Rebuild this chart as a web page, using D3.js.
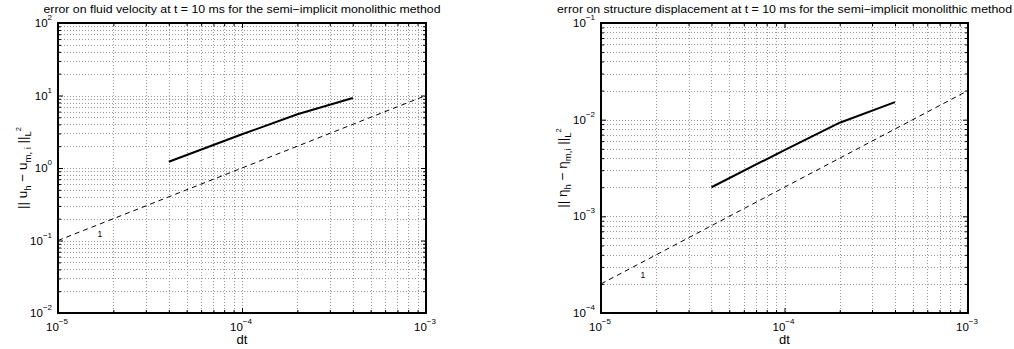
<!DOCTYPE html>
<html><head><meta charset="utf-8">
<script src="https://cdn.jsdelivr.net/npm/d3@7"></script>
<style>body{margin:0;background:#fff}svg{display:block;font-family:"Liberation Sans",Arial,Helvetica,sans-serif}</style>
</head><body><svg id="c" width="1014" height="349"></svg>
<script>
// ---- data ----
const dt = [4e-5, 1e-4, 2e-4, 4e-4];
const errVelocity = [1.22, 2.92, 5.5, 9.25];
const errDisplacement = [0.0020, 0.00485, 0.0093, 0.0152];
const refDt = [1e-5, 1e-3];
const refVelocity = [0.1, 10];
const refDisplacement = [2e-4, 2e-2];
const slopeLabelDt = 1.69e-5;
const slopeLabelVelocity = 0.123;
const slopeLabelDisplacement = 2.47e-4;
const xTickExp = [-5, -4, -3];
const yTickExpVelocity = [-2, -1, 0, 1, 2];
const yTickExpDisplacement = [-4, -3, -2, -1];
const titles = ["error on fluid velocity at t = 10 ms for the semi\u2212implicit monolithic method",
                "error on structure displacement at t = 10 ms for the semi\u2212implicit monolithic method"];
const xLabel = "dt";

const svg = d3.select("#c");

function panel(o) {
  const g = svg.append("g");
  const x = d3.scaleLog().domain([1e-5, 1e-3]).range([o.left, o.right]);
  const y = d3.scaleLog().domain([Math.pow(10, o.yExp[0]), Math.pow(10, o.yExp[o.yExp.length - 1])]).range([o.bottom, o.top]);

  // grid
  const xMinor = [], yMinor = [];
  for (let e = -5; e < -3; e++) for (let k = 1; k <= 9; k++) xMinor.push(k * Math.pow(10, e));
  xMinor.push(1e-3);
  for (let e = o.yExp[0]; e < o.yExp[o.yExp.length - 1]; e++) for (let k = 1; k <= 9; k++) yMinor.push(k * Math.pow(10, e));
  yMinor.push(Math.pow(10, o.yExp[o.yExp.length - 1]));
  const gridV = xMinor.filter(v => v > 1.0001e-5 && v < 0.9999e-3);
  const gridH = yMinor.filter(v => v > y.domain()[0] * 1.0001 && v < y.domain()[1] * 0.9999);
  g.selectAll(".gv").data(gridV).enter().append("line")
    .attr("x1", d => Math.round(x(d)) + 0.5).attr("x2", d => Math.round(x(d)) + 0.5)
    .attr("y1", o.top).attr("y2", o.bottom)
    .attr("stroke", "#999").attr("stroke-width", 1).attr("stroke-dasharray", "1,2");
  g.selectAll(".gh").data(gridH).enter().append("line")
    .attr("y1", d => Math.round(y(d)) + 0.5).attr("y2", d => Math.round(y(d)) + 0.5)
    .attr("x1", o.left).attr("x2", o.right)
    .attr("stroke", "#999").attr("stroke-width", 1).attr("stroke-dasharray", "1,2");

  // ticks via d3 axes (inward)
  const isMajor = v => Math.abs(Math.log10(v) - Math.round(Math.log10(v))) < 1e-6;
  const mk = (axisFn, scale, vals, pos, tr) => {
    const a = axisFn(scale).tickValues(vals).tickFormat("").tickSizeOuter(0).tickSizeInner(0);
    const ga = g.append("g").attr("transform", tr).call(a);
    ga.select(".domain").remove();
    ga.selectAll(".tick line").each(function(d) {
      const len = isMajor(d) ? 5 : 3;
      const s = d3.select(this).attr("stroke", "#000").attr("stroke-width", 1);
      if (pos === "b") s.attr("y2", -len);
      if (pos === "t") s.attr("y2", len);
      if (pos === "l") s.attr("x2", len);
      if (pos === "r") s.attr("x2", -len);
    });
  };
  mk(d3.axisBottom, x, xMinor, "b", `translate(0,${o.bottom})`);
  mk(d3.axisTop, x, xMinor, "t", `translate(0,${o.top})`);
  mk(d3.axisLeft, y, yMinor, "l", `translate(${o.left},0)`);
  mk(d3.axisRight, y, yMinor, "r", `translate(${o.right},0)`);

  // box
  g.append("rect").attr("x", o.left).attr("y", o.top).attr("width", o.right - o.left).attr("height", o.bottom - o.top)
    .attr("fill", "none").attr("stroke", "#000").attr("stroke-width", 2);

  // x tick labels
  xTickExp.forEach(e => {
    const t = g.append("text").attr("x", x(Math.pow(10, e)) - 1).attr("y", o.bottom + 18)
      .attr("text-anchor", "middle").attr("font-size", 11.5);
    t.append("tspan").text("10");
    t.append("tspan").attr("font-size", 8).attr("dy", -7).text(e < 0 ? "\u2212" + (-e) : String(e));
  });
  // y tick labels
  o.yExp.forEach(e => {
    const t = g.append("text").attr("x", o.left - 6).attr("y", y(Math.pow(10, e)) + 4)
      .attr("text-anchor", "end").attr("font-size", 11.5);
    t.append("tspan").text("10");
    t.append("tspan").attr("font-size", 8).attr("dy", -7).text(e < 0 ? "\u2212" + (-e) : String(e));
  });

  // title
  g.append("text").attr("x", (o.left + o.right) / 2).attr("y", 13)
    .attr("text-anchor", "middle").attr("font-size", 11.5)
    .attr("textLength", o.titleLen).attr("lengthAdjust", "spacingAndGlyphs").text(o.title);
  // x label
  g.append("text").attr("x", (o.left + o.right) / 2).attr("y", 344)
    .attr("text-anchor", "middle").attr("font-size", 13).text(xLabel);
  // y label
  const yl = g.append("text").attr("transform", `translate(${o.ylabelX},${(o.top + o.bottom) / 2}) rotate(-90)`)
    .attr("text-anchor", "middle").attr("font-size", 13.5);
  o.ylabel(yl);

  // reference dashed line
  const line = d3.line().x(d => x(d[0])).y(d => y(d[1]));
  g.append("path").datum(refDt.map((d, i) => [d, o.ref[i]])).attr("d", line)
    .attr("fill", "none").attr("stroke", "#000").attr("stroke-width", 1).attr("stroke-dasharray", "5,4");
  g.append("text").attr("x", x(slopeLabelDt)).attr("y", y(o.slopeY) + 3)
    .attr("text-anchor", "middle").attr("font-size", 8.5).text("1");
  // data line
  g.append("path").datum(dt.map((d, i) => [d, o.err[i]])).attr("d", line)
    .attr("fill", "none").attr("stroke", "#000").attr("stroke-width", 2);
}

const sub = (t, txt) => { t.append("tspan").attr("font-size", 9.5).attr("dy", 4).text(txt); t.append("tspan").attr("dy", -4).text(""); };

panel({left: 58, right: 426, top: 23, bottom: 313, yExp: yTickExpVelocity, title: titles[0], titleLen: 397,
  err: errVelocity, ref: refVelocity, slopeY: slopeLabelVelocity, ylabelX: 27,
  ylabel: t => {
    t.append("tspan").text("|| u");
    t.append("tspan").attr("font-size", 9.5).attr("dy", 4).text("h");
    t.append("tspan").attr("dy", -4).text(" \u2212 u");
    t.append("tspan").attr("font-size", 9.5).attr("dy", 4).text("m, i");
    t.append("tspan").attr("dy", -4).text(" ||");
    t.append("tspan").attr("font-size", 9.5).attr("dy", 4).text("L");
    t.append("tspan").attr("font-size", 7.5).attr("dy", -10).text("2");
  }});
panel({left: 601, right: 968, top: 23, bottom: 313, yExp: yTickExpDisplacement, title: titles[1], titleLen: 455,
  err: errDisplacement, ref: refDisplacement, slopeY: slopeLabelDisplacement, ylabelX: 567,
  ylabel: t => {
    t.append("tspan").text("|| \u03b7");
    t.append("tspan").attr("font-size", 9.5).attr("dy", 4).text("h");
    t.append("tspan").attr("dy", -4).text(" \u2212 \u03b7");
    t.append("tspan").attr("font-size", 9.5).attr("dy", 4).text("m,i");
    t.append("tspan").attr("dy", -4).text(" ||");
    t.append("tspan").attr("font-size", 9.5).attr("dy", 4).text("L");
    t.append("tspan").attr("font-size", 7.5).attr("dy", -10).text("2");
  }});
</script></body></html>
